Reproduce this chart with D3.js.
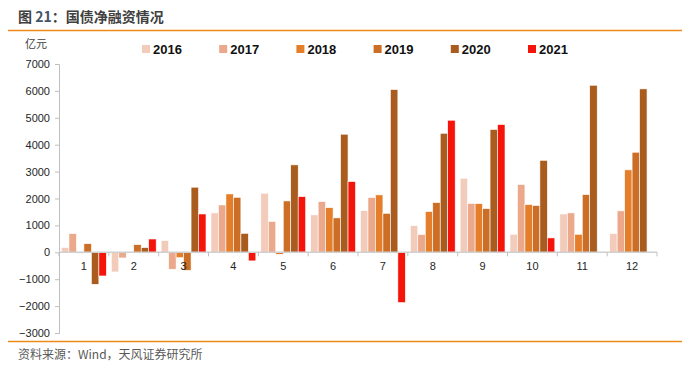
<!DOCTYPE html>
<html>
<head>
<meta charset="utf-8">
<script src="https://cdn.jsdelivr.net/npm/d3@7"></script>
<style>
  body { margin: 0; background: #fff; }
  svg { font-family: "Liberation Sans", Arial, sans-serif; }
  .cn { font-family: "Noto Sans CJK SC", sans-serif; }
</style>
</head>
<body>
<div id="chart"></div>
<script>
// data
months = ['1','2','3','4','5','6','7','8','9','10','11','12']
years = ['2016','2017','2018','2019','2020','2021']
v2016 = [180, -730, 435, 1465, 2195, 1390, 1550, 990, 2750, 670, 1425, 695]
v2017 = [695, -210, -630, 1760, 1150, 1885, 2035, 660, 1820, 2520, 1465, 1540]
v2018 = [-30, 0, -200, 2170, -75, 1660, 2135, 1515, 1810, 1775, 670, 3065]
v2019 = [320, 285, -670, 2045, 1910, 1280, 1450, 1850, 1625, 1740, 2145, 3720]
v2020 = [-1190, 175, 2420, 705, 3250, 4390, 6050, 4425, 4565, 3420, 6210, 6075]
v2021 = [-880, 495, 1425, -320, 2070, 2630, -1870, 4910, 4750, 535, null, null]
yTicks = [-3000, -2000, -1000, 0, 1000, 2000, 3000, 4000, 5000, 6000, 7000]

colors = ['#F2CBBB', '#EBA88A', '#E57E2A', '#CC6E26', '#A95C1E', '#F5140A']
series = [v2016, v2017, v2018, v2019, v2020, v2021]

svgWidth = 690
svgHeight = 369

svg = d3.select('#chart')
        .append('svg')
        .attr('width', svgWidth)
        .attr('height', svgHeight)

// title + rules
title = svg.append('text')
           .attr('class', 'cn')
           .attr('x', 18)
           .attr('y', 22)
           .attr('font-size', 14)
           .attr('font-weight', 'bold')
           .attr('fill', '#404040')
title.append('tspan').text('图 ')
title.append('tspan').attr('fill', '#44546A').text('21')
title.append('tspan').text('：国债净融资情况')

svg.append('line')
   .attr('x1', 8).attr('x2', 682)
   .attr('y1', 30.5).attr('y2', 30.5)
   .attr('stroke', '#EE8A1A').attr('stroke-width', 1.5)

svg.append('line')
   .attr('x1', 8).attr('x2', 682)
   .attr('y1', 341.5).attr('y2', 341.5)
   .attr('stroke', '#EE8A1A').attr('stroke-width', 1.5)

svg.append('text')
   .attr('class', 'cn')
   .attr('x', 18)
   .attr('y', 359)
   .attr('font-size', 12)
   .attr('fill', '#595959')
   .text('资料来源：Wind，天风证券研究所')

svg.append('text')
   .attr('class', 'cn')
   .attr('x', 25)
   .attr('y', 48)
   .attr('font-size', 11)
   .attr('fill', '#404040')
   .text('亿元')

// scales
x0 = d3.scaleBand()
       .domain(months)
       .range([59, 657])
       .paddingInner(0.1)
       .paddingOuter(0.05)

x1 = d3.scaleBand()
       .domain(years)
       .range([0, x0.bandwidth()])

yScale = d3.scaleLinear()
           .domain([-3000, 7000])
           .range([333, 64])

// y axis
leftAxis = d3.axisLeft(yScale)
             .tickValues(yTicks)
             .tickSize(4)
             .tickPadding(5)
             .tickFormat(d3.format('d'))

yAxis = svg.append('g')
           .attr('transform', 'translate(59,0)')
           .call(leftAxis)
yAxis.select('.domain').attr('stroke', '#BFBFBF')
yAxis.selectAll('.tick line').attr('stroke', '#BFBFBF')
yAxis.selectAll('text')
     .attr('font-size', 11)
     .attr('fill', '#262626')
     .attr('font-family', '"Liberation Sans", Arial, sans-serif')

// bars
groups = svg.append('g')
            .selectAll('g')
            .data(years)
            .enter()
            .append('g')
            .attr('fill', (d, i) => colors[i])

groups.selectAll('rect')
      .data((yr, i) => months.map((m, j) => ({m: m, yr: yr, v: series[i][j]})).filter(d => d.v !== null))
      .enter()
      .append('rect')
      .attr('x', d => x0(d.m) + x1(d.yr))
      .attr('width', x1.bandwidth())
      .attr('y', d => yScale(Math.max(0, d.v)))
      .attr('height', d => Math.abs(yScale(d.v) - yScale(0)))
      .attr('stroke', '#fff')
      .attr('stroke-width', 0.6)

// x axis at zero
zeroY = yScale(0)
svg.append('line')
   .attr('x1', 59).attr('x2', 657)
   .attr('y1', zeroY).attr('y2', zeroY)
   .attr('stroke', '#D0D0D0').attr('stroke-width', 1.5)

step = x0.step()
bounds = d3.range(13).map(i => 59 + i * step)
svg.append('g')
   .selectAll('line')
   .data(bounds)
   .enter()
   .append('line')
   .attr('x1', d => d).attr('x2', d => d)
   .attr('y1', zeroY).attr('y2', zeroY + 4)
   .attr('stroke', '#BFBFBF')

svg.append('g')
   .selectAll('text')
   .data(months)
   .enter()
   .append('text')
   .attr('x', d => x0(d) + x0.bandwidth() / 2)
   .attr('y', zeroY + 18)
   .attr('text-anchor', 'middle')
   .attr('font-size', 11)
   .attr('fill', '#262626')
   .text(d => d)

// legend
legend = svg.append('g')
            .selectAll('g')
            .data(years)
            .enter()
            .append('g')
            .attr('transform', (d, i) => `translate(${142 + i * 77.2},45)`)

legend.append('rect')
      .attr('width', 8)
      .attr('height', 8)
      .attr('fill', (d, i) => colors[i])

legend.append('text')
      .attr('x', 11)
      .attr('y', 8.5)
      .attr('font-size', 13)
      .attr('font-weight', 'bold')
      .attr('fill', '#111')
      .text(d => d)
</script>
</body>
</html>
